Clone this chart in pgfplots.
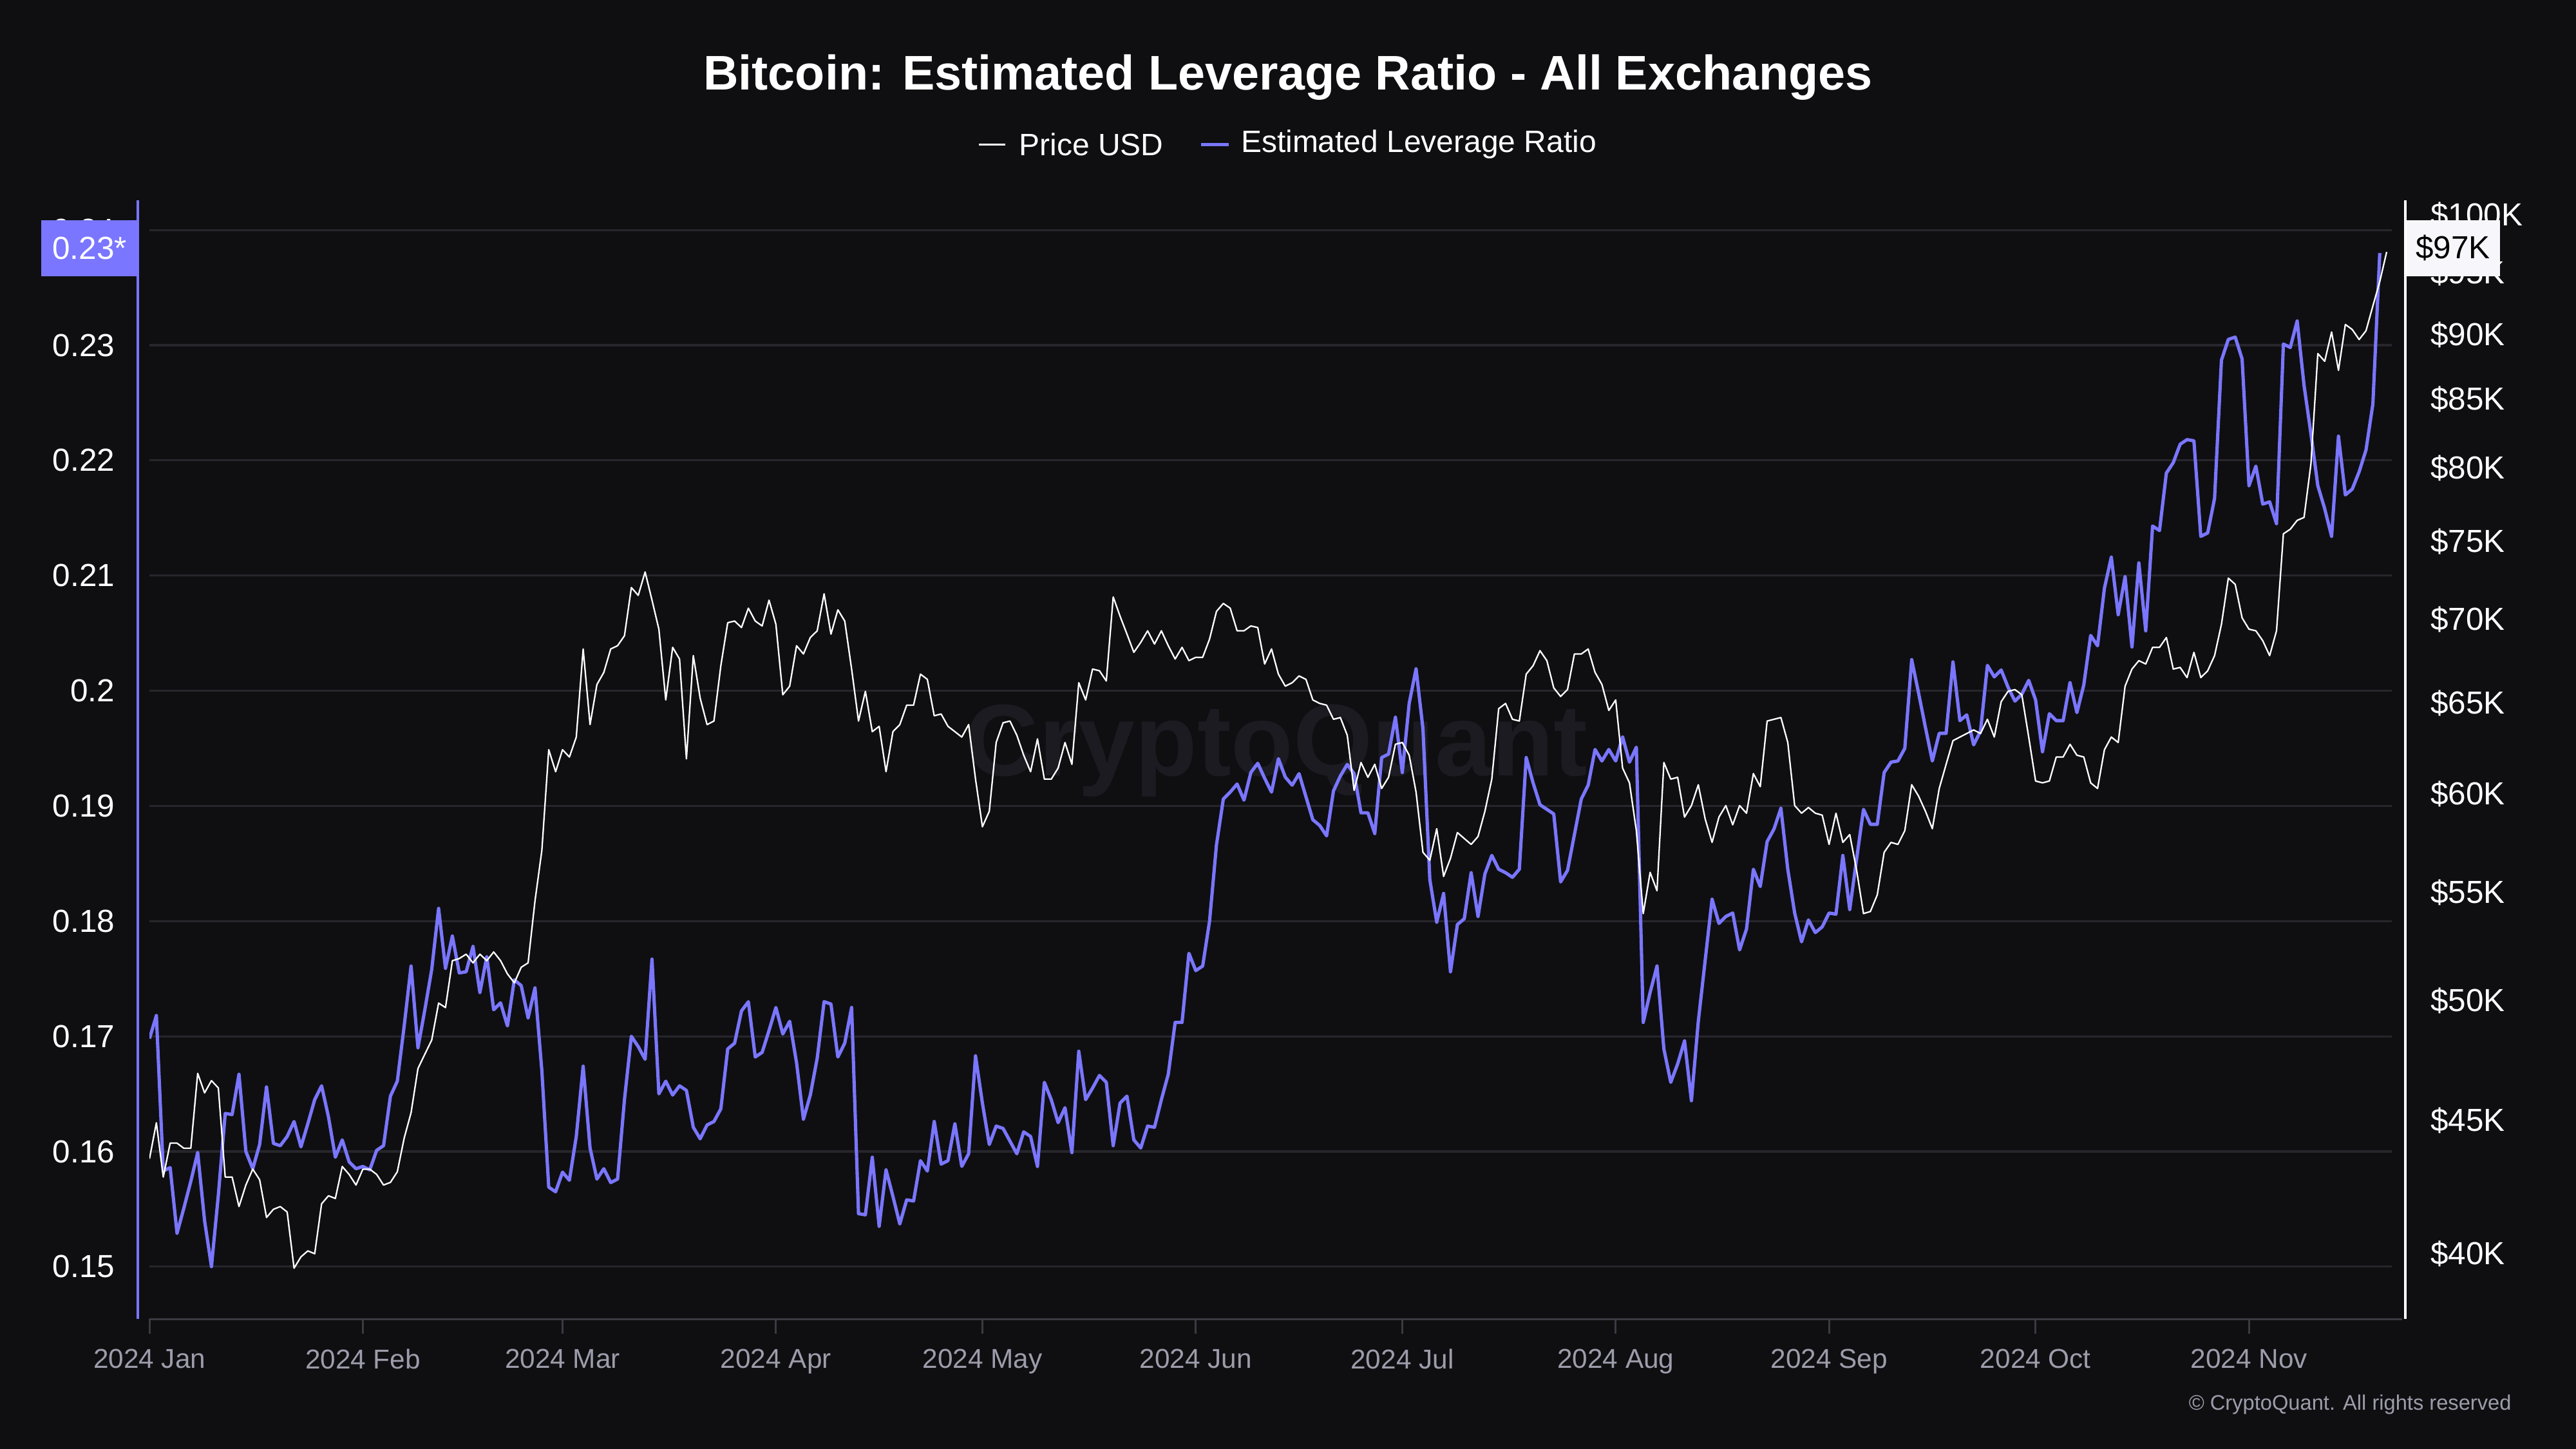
\documentclass[border=0pt]{standalone}
\usepackage{fontspec}
\setmainfont{Liberation Sans}
\usepackage{pgfplots}
\usepackage{pgfplotstable}
\pgfplotsset{compat=1.18}
\definecolor{bg}{HTML}{0F0F12}
\definecolor{lev}{HTML}{7A76FF}
\definecolor{gridc}{HTML}{26262C}
\definecolor{tickc}{HTML}{9D9CAA}
\definecolor{axc}{HTML}{3A3A42}
\definecolor{wm}{HTML}{1B1B21}
\definecolor{boxw}{HTML}{F7F7FB}

\pgfplotstableread{
day lev
0 0.1698
1 0.1718
2 0.1583
3 0.1586
4 0.1529
5 0.1551
6 0.1574
7 0.1599
8 0.1540
9 0.1500
10 0.1562
11 0.1633
12 0.1632
13 0.1667
14 0.1600
15 0.1585
16 0.1606
17 0.1656
18 0.1607
19 0.1605
20 0.1613
21 0.1626
22 0.1604
23 0.1624
24 0.1645
25 0.1657
26 0.1630
27 0.1595
28 0.1610
29 0.1591
30 0.1585
31 0.1587
32 0.1584
33 0.1601
34 0.1605
35 0.1648
36 0.1661
37 0.1709
38 0.1761
39 0.1690
40 0.1723
41 0.1758
42 0.1811
43 0.1759
44 0.1787
45 0.1755
46 0.1756
47 0.1778
48 0.1738
49 0.1769
50 0.1723
51 0.1729
52 0.1709
53 0.1749
54 0.1744
55 0.1716
56 0.1742
57 0.1670
58 0.1569
59 0.1565
60 0.1582
61 0.1575
62 0.1613
63 0.1674
64 0.1603
65 0.1576
66 0.1585
67 0.1573
68 0.1576
69 0.1645
70 0.1700
71 0.1691
72 0.1680
73 0.1767
74 0.1650
75 0.1661
76 0.1649
77 0.1657
78 0.1653
79 0.1621
80 0.1611
81 0.1623
82 0.1626
83 0.1637
84 0.1689
85 0.1694
86 0.1722
87 0.1730
88 0.1682
89 0.1686
90 0.1705
91 0.1725
92 0.1702
93 0.1713
94 0.1677
95 0.1628
96 0.1649
97 0.1681
98 0.1730
99 0.1728
100 0.1682
101 0.1694
102 0.1725
103 0.1546
104 0.1545
105 0.1595
106 0.1535
107 0.1584
108 0.1561
109 0.1537
110 0.1558
111 0.1557
112 0.1592
113 0.1583
114 0.1626
115 0.1589
116 0.1592
117 0.1624
118 0.1587
119 0.1598
120 0.1683
121 0.1642
122 0.1606
123 0.1622
124 0.1620
125 0.1609
126 0.1598
127 0.1617
128 0.1613
129 0.1587
130 0.1660
131 0.1645
132 0.1625
133 0.1638
134 0.1599
135 0.1687
136 0.1645
137 0.1655
138 0.1666
139 0.1660
140 0.1605
141 0.1642
142 0.1648
143 0.1610
144 0.1603
145 0.1622
146 0.1621
147 0.1645
148 0.1667
149 0.1712
150 0.1712
151 0.1772
152 0.1757
153 0.1761
154 0.1800
155 0.1866
156 0.1906
157 0.1912
158 0.1919
159 0.1905
160 0.1929
161 0.1937
162 0.1924
163 0.1912
164 0.1941
165 0.1925
166 0.1918
167 0.1928
168 0.1908
169 0.1888
170 0.1883
171 0.1874
172 0.1913
173 0.1926
174 0.1936
175 0.1928
176 0.1894
177 0.1894
178 0.1876
179 0.1942
180 0.1945
181 0.1977
182 0.1929
183 0.1989
184 0.2019
185 0.1967
186 0.1836
187 0.1799
188 0.1824
189 0.1756
190 0.1797
191 0.1802
192 0.1842
193 0.1804
194 0.1841
195 0.1857
196 0.1845
197 0.1842
198 0.1838
199 0.1845
200 0.1942
201 0.1920
202 0.1901
203 0.1897
204 0.1893
205 0.1834
206 0.1844
207 0.1875
208 0.1906
209 0.1918
210 0.1949
211 0.1939
212 0.1949
213 0.1939
214 0.1960
215 0.1938
216 0.1951
217 0.1712
218 0.1738
219 0.1761
220 0.1689
221 0.1660
222 0.1676
223 0.1696
224 0.1644
225 0.1713
226 0.1766
227 0.1819
228 0.1798
229 0.1804
230 0.1807
231 0.1775
232 0.1793
233 0.1845
234 0.1830
235 0.1869
236 0.1880
237 0.1898
238 0.1845
239 0.1807
240 0.1782
241 0.1801
242 0.1790
243 0.1795
244 0.1807
245 0.1806
246 0.1857
247 0.1810
248 0.1854
249 0.1897
250 0.1884
251 0.1884
252 0.1929
253 0.1938
254 0.1939
255 0.1950
256 0.2027
257 0.1998
258 0.1968
259 0.1939
260 0.1963
261 0.1963
262 0.2025
263 0.1974
264 0.1979
265 0.1953
266 0.1965
267 0.2022
268 0.2012
269 0.2018
270 0.2003
271 0.1991
272 0.1997
273 0.2009
274 0.1992
275 0.1947
276 0.1980
277 0.1974
278 0.1974
279 0.2007
280 0.1981
281 0.2005
282 0.2048
283 0.2039
284 0.2089
285 0.2116
286 0.2066
287 0.2099
288 0.2038
289 0.2111
290 0.2052
291 0.2143
292 0.2139
293 0.2189
294 0.2198
295 0.2214
296 0.2218
297 0.2217
298 0.2134
299 0.2137
300 0.2167
301 0.2287
302 0.2305
303 0.2307
304 0.2288
305 0.2178
306 0.2195
307 0.2162
308 0.2164
309 0.2145
310 0.2301
311 0.2298
312 0.2321
313 0.2265
314 0.2223
315 0.2178
316 0.2158
317 0.2134
318 0.2221
319 0.2170
320 0.2175
321 0.2190
322 0.2209
323 0.2249
324 0.2380
}\levtable

\pgfplotstableread{
day price
0 43.5
1 44.9
2 42.8
3 44.1
4 44.1
5 43.9
6 43.9
7 46.9
8 46.1
9 46.6
10 46.3
11 42.8
12 42.8
13 41.7
14 42.5
15 43.1
16 42.7
17 41.3
18 41.6
19 41.7
20 41.5
21 39.5
22 39.9
23 40.1
24 40.0
25 41.8
26 42.1
27 42.0
28 43.2
29 42.9
30 42.5
31 43.1
32 43.1
33 42.9
34 42.5
35 42.6
36 43.0
37 44.3
38 45.3
39 47.1
40 47.7
41 48.3
42 49.9
43 49.7
44 51.8
45 51.9
46 52.1
47 51.7
48 52.1
49 51.8
50 52.2
51 51.8
52 51.2
53 50.8
54 51.5
55 51.7
56 54.6
57 57.1
58 62.4
59 61.2
60 62.4
61 62.0
62 63.1
63 68.2
64 63.8
65 66.1
66 66.8
67 68.2
68 68.4
69 69.0
70 72.0
71 71.5
72 73.0
73 71.2
74 69.4
75 65.2
76 68.3
77 67.6
78 61.9
79 67.8
80 65.3
81 63.8
82 64.0
83 67.2
84 69.8
85 69.9
86 69.5
87 70.7
88 69.9
89 69.6
90 71.2
91 69.7
92 65.5
93 66.0
94 68.4
95 67.9
96 68.9
97 69.3
98 71.6
99 69.1
100 70.6
101 69.9
102 67.0
103 64.0
104 65.7
105 63.4
106 63.7
107 61.2
108 63.4
109 63.8
110 64.9
111 64.9
112 66.7
113 66.4
114 64.3
115 64.4
116 63.7
117 63.4
118 63.1
119 63.8
120 60.8
121 58.3
122 59.1
123 62.8
124 63.9
125 64.0
126 63.2
127 62.1
128 61.2
129 63.0
130 60.8
131 60.8
132 61.4
133 62.8
134 61.6
135 66.2
136 65.2
137 67.0
138 66.9
139 66.3
140 71.4
141 70.2
142 69.1
143 68.0
144 68.6
145 69.3
146 68.5
147 69.3
148 68.4
149 67.6
150 68.3
151 67.5
152 67.7
153 67.7
154 68.8
155 70.5
156 71.0
157 70.7
158 69.3
159 69.3
160 69.6
161 69.5
162 67.3
163 68.2
164 66.7
165 66.0
166 66.2
167 66.6
168 66.4
169 65.2
170 65.0
171 64.9
172 64.1
173 64.2
174 63.2
175 60.2
176 61.7
177 60.9
178 61.6
179 60.3
180 60.9
181 62.7
182 62.8
183 62.1
184 60.1
185 57.0
186 56.6
187 58.2
188 55.8
189 56.7
190 58.0
191 57.7
192 57.4
193 57.8
194 59.1
195 60.8
196 64.7
197 65.0
198 64.1
199 64.0
200 66.7
201 67.2
202 68.1
203 67.5
204 65.9
205 65.4
206 65.8
207 67.9
208 67.9
209 68.2
210 66.8
211 66.1
212 64.6
213 65.2
214 61.4
215 60.6
216 58.1
217 54.0
218 56.0
219 55.1
220 61.7
221 60.8
222 60.9
223 58.8
224 59.4
225 60.5
226 58.7
227 57.5
228 58.8
229 59.4
230 58.4
231 59.4
232 59.0
233 61.1
234 60.4
235 64.0
236 64.1
237 64.2
238 62.8
239 59.4
240 59.0
241 59.3
242 59.0
243 58.9
244 57.4
245 59.0
246 57.5
247 57.9
248 56.1
249 54.0
250 54.1
251 54.9
252 57.0
253 57.5
254 57.4
255 58.1
256 60.5
257 59.9
258 59.1
259 58.2
260 60.3
261 61.6
262 62.9
263 63.1
264 63.3
265 63.5
266 63.3
267 64.1
268 63.1
269 65.1
270 65.7
271 65.8
272 65.5
273 63.1
274 60.7
275 60.6
276 60.7
277 62.0
278 62.0
279 62.7
280 62.1
281 62.0
282 60.6
283 60.3
284 62.4
285 63.1
286 62.8
287 66.0
288 67.0
289 67.5
290 67.3
291 68.3
292 68.3
293 68.9
294 67.0
295 67.1
296 66.5
297 68.0
298 66.5
299 66.9
300 67.8
301 69.7
302 72.6
303 72.2
304 70.1
305 69.4
306 69.3
307 68.7
308 67.8
309 69.3
310 75.5
311 75.8
312 76.4
313 76.6
314 80.3
315 88.5
316 87.9
317 90.2
318 87.2
319 90.8
320 90.4
321 89.6
322 90.3
323 92.3
324 94.3
325 96.8
}\pricetable

\begin{document}
\begin{tikzpicture}[x=1pt,y=1pt]
\useasboundingbox (0,0) rectangle (784,441);
\fill[bg] (0,0) rectangle (784,441);
% watermark
\node[text=wm, font=\fontsize{31}{31}\selectfont\bfseries, inner sep=0pt] at (388.5,212.5) {CryptoQuant};

\begin{axis}[
  at={(45.5pt,39.5pt)}, anchor=south west,
  scale only axis, width=682.5pt, height=340.5pt,
  xmin=0, xmax=325.78,
  ymin=0.145436, ymax=0.242567,
  axis line style={draw=none},
  xtick={0,31,60,91,121,152,182,213,244,274,305},
  xticklabels={2024 Jan,2024 Feb,2024 Mar,2024 Apr,2024 May,2024 Jun,2024 Jul,2024 Aug,2024 Sep,2024 Oct,2024 Nov},
  xtick pos=bottom, tick align=outside,
  major tick length=4.4pt,
  xtick style={color=axc, line width=0.6pt},
  xticklabel style={font=\fontsize{8.3}{10}\selectfont, text=tickc, anchor=north, inner sep=0pt, yshift=-4.5pt},
  ytick={0.15,0.16,0.17,0.18,0.19,0.2,0.21,0.22,0.23,0.24},
  yticklabels={0.15,0.16,0.17,0.18,0.19,0.2,0.21,0.22,0.23,0.24},
  ytick pos=left,
  ytick style={draw=none},
  yticklabel style={font=\fontsize{9.7}{11}\selectfont, text=white, anchor=east, inner sep=0pt, xshift=-6pt},
  ymajorgrids, grid style={color=gridc, line width=0.6pt},
]
\addplot[lev, line width=1pt, line join=round] table[x=day,y=lev]{\levtable};
\end{axis}

\begin{axis}[
  at={(45.5pt,39.5pt)}, anchor=south west,
  scale only axis, width=682.5pt, height=340.5pt,
  xmin=0, xmax=325.78,
  ymode=log, ymin=37.76, ymax=101.31,
  axis line style={draw=none},
  xtick=\empty,
  ytick={40,45,50,55,60,65,70,75,80,85,90,95,100},
  yticklabels={\$40K,\$45K,\$50K,\$55K,\$60K,\$65K,\$70K,\$75K,\$80K,\$85K,\$90K,\$95K,\$100K},
  ytick pos=right,
  ytick style={draw=none},
  yticklabel style={font=\fontsize{9.7}{11}\selectfont, text=white, anchor=west, inner sep=0pt, xshift=11.5pt},
]
\addplot[white, line width=0.45pt, line join=round] table[x=day,y=price]{\pricetable};
\end{axis}

% axis lines
\draw[axc, line width=0.6pt] (45.5,39.5) -- (731,39.5);
\draw[lev, line width=0.8pt] (42,39.5) -- (42,380);
\draw[white, line width=0.8pt] (732,39.5) -- (732,380);

% last value boxes
\fill[lev] (12.5,357) rectangle (42,374);
\node[text=white, font=\fontsize{9.7}{11}\selectfont, inner sep=0pt] at (27.25,365.5) {0.23*};
\fill[boxw] (732.4,357) rectangle (760.8,374);
\node[text=black, font=\fontsize{9.7}{11}\selectfont, inner sep=0pt] at (746.6,365.5) {\$97K};

% title
\node[text=white, font=\fontsize{14.8}{17}\selectfont\bfseries] at (392,417.5) {Bitcoin: Estimated Leverage Ratio - All Exchanges};

% legend
\draw[white, line width=0.5pt] (298,397) -- (306,397);
\node[text=white, anchor=west, inner sep=0pt, font=\fontsize{9.4}{11}\selectfont] at (310,397) {Price USD};
\draw[lev, line width=1pt] (365.5,397) -- (374,397);
\node[text=white, anchor=west, inner sep=0pt, font=\fontsize{9.4}{11}\selectfont] at (377.5,397) {Estimated Leverage Ratio};

% copyright
\node[text=tickc, anchor=east, inner sep=0pt, font=\fontsize{6.4}{8}\selectfont] at (764.5,13.5) {\textcopyright\ CryptoQuant. All rights reserved};
\end{tikzpicture}
\end{document}
